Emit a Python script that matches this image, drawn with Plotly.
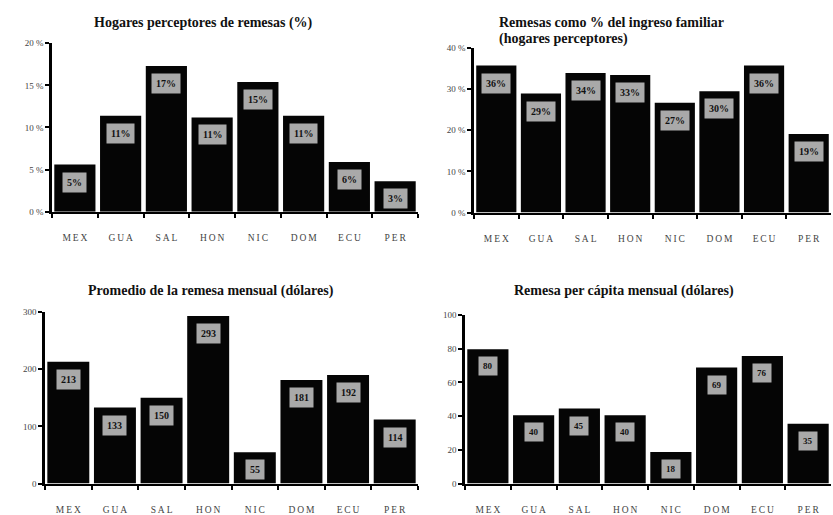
import plotly.graph_objects as go

categories = ["MEX", "GUA", "SAL", "HON", "NIC", "DOM", "ECU", "PER"]

hogares_pct = [5.6, 11.4, 17.3, 11.2, 15.4, 11.4, 5.9, 3.6]
hogares_labels = ["5%", "11%", "17%", "11%", "15%", "11%", "6%", "3%"]

ingreso_pct = [35.7, 28.9, 33.9, 33.4, 26.7, 29.5, 35.7, 19.1]
ingreso_labels = ["36%", "29%", "34%", "33%", "27%", "30%", "36%", "19%"]

promedio_usd = [213, 133, 150, 293, 55, 181, 190, 112]
promedio_labels = ["213", "133", "150", "293", "55", "181", "192", "114"]

percapita_usd = [79.6, 40.5, 44.5, 40.5, 18.7, 68.8, 75.7, 35.5]
percapita_labels = ["80", "40", "45", "40", "18", "69", "76", "35"]

titles = [
    "Hogares perceptores de remesas (%)",
    "Remesas como % del ingreso familiar",
    "(hogares perceptores)",
    "Promedio de la remesa mensual (dólares)",
    "Remesa per cápita mensual (dólares)",
]

y_ticks = [
    ([0, 5, 10, 15, 20], ["0 %", "5 %", "10 %", "15 %", "20 %"]),
    ([0, 10, 20, 30, 40], ["0 %", "10 %", "20 %", "30 %", "40 %"]),
    ([0, 100, 200, 300], ["0", "100", "200", "300"]),
    ([0, 20, 40, 60, 80, 100], ["0", "20", "40", "60", "80", "100"]),
]

W, H = 833, 515
def fx(px):
    return px / W
def fy(py):
    return 1 - py / H

# panel geometry (pixels): left, right, y of zero, y of max
panels = [
    (52, 418, 212, 39.3, 20),
    (474, 831, 213, 44, 40),
    (45, 418, 491, 315, 300),
    (465, 831, 491, 318, 100),
]

series = [
    (hogares_pct, hogares_labels),
    (ingreso_pct, ingreso_labels),
    (promedio_usd, promedio_labels),
    (percapita_usd, percapita_labels),
]

serif = "Liberation Serif"
fig = go.Figure()
annotations = []
tick_text = ["\u2009".join(c) for c in categories]

for i, ((vals, labs), (l, r, y0, y1, ymax)) in enumerate(zip(series, panels)):
    n = "" if i == 0 else str(i + 1)
    xa, ya = "x" + n, "y" + n
    fig.add_trace(go.Bar(
        x=categories, y=vals, xaxis=xa, yaxis=ya,
        marker=dict(color="#050505", line=dict(width=0)),
        showlegend=False, hoverinfo="x+y",
    ))
    fig.layout["xaxis" + n] = dict(
        domain=[fx(l), fx(r)], anchor=ya, type="category",
        range=[-0.5, 7.5], tickmode="array", tickvals=categories, ticktext=tick_text,
        showline=True, linecolor="#000", linewidth=2,
        ticks="outside", tickson="boundaries", ticklen=4, tickcolor="#000", tickwidth=1.5,
        ticklabelstandoff=16,
        tickfont=dict(family=serif, size=9.5, color="#444"),
        showgrid=False, zeroline=False, fixedrange=True,
    )
    tv, tt = y_ticks[i]
    fig.layout["yaxis" + n] = dict(
        domain=[fy(y0), fy(y1)], anchor=xa, range=[0, ymax],
        tickmode="array", tickvals=tv, ticktext=tt,
        showline=True, linecolor="#000", linewidth=2.5,
        ticks="outside", ticklen=4, tickcolor="#000", tickwidth=1.5,
        tickfont=dict(family=serif, size=9, color="#444"),
        showgrid=False, zeroline=False, fixedrange=True,
    )
    for c, v, t in zip(categories, vals, labs):
        annotations.append(dict(
            x=c, y=v, xref=xa, yref=ya, text="<b>" + t + "</b>",
            showarrow=False, yanchor="top", yshift=-7,
            font=dict(family=serif, size=10 if i != 3 else 9, color="#111"),
            bgcolor="#a9a9a9", borderpad=4,
        ))

title_font = dict(family=serif, size=14, color="#111")
title_pos = [
    (203, 18, "center"),
    (497, 18, "left"),
    (497, 35, "left"),
    (211, 293, "center"),
    (624, 293, "center"),
]
for t, (px, py, anc) in zip(titles, title_pos):
    annotations.append(dict(x=fx(px), y=fy(py), xref="paper", yref="paper", text="<b>" + t + "</b>",
                             showarrow=False, xanchor=anc, yanchor="middle", font=title_font))

fig.update_layout(
    width=W, height=H,
    margin=dict(l=0, r=0, t=0, b=0),
    paper_bgcolor="white", plot_bgcolor="white",
    bargap=0.1,
    annotations=annotations,
)

fig.write_html(
    "out.html",
    config={"displayModeBar": False},
    post_script="document.body.style.margin='0';document.body.style.overflow='hidden';",
)
